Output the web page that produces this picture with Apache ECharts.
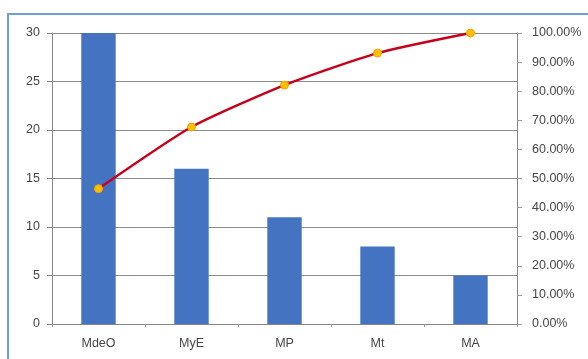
<!DOCTYPE html>
<html>
<head>
<meta charset="utf-8">
<script src="https://cdn.jsdelivr.net/npm/echarts@6/dist/echarts.min.js"></script>
<style>
  html, body { margin: 0; padding: 0; background: #fff; }
  #chart { width: 588px; height: 359px; }
</style>
</head>
<body>
<div id="chart"></div>
<script>
// datos
const categories = ['MdeO', 'MyE', 'MP', 'Mt', 'MA']
const counts = [30, 16, 11, 8, 5]
const cumulative = [46.5, 67.7, 82.1, 93.1, 100]

const chart = echarts.init(document.getElementById('chart'))

const labelStyle = {
  color: '#474747',
  fontSize: 12.5,
  fontFamily: 'Liberation Sans, Arial, sans-serif'
}

chart.setOption({
  animation: false,
  grid: { left: 52, right: 71, top: 33, bottom: 35 },
  graphic: [{
    type: 'rect',
    shape: { x: 8, y: 14, width: 640, height: 400 },
    style: { fill: 'none', stroke: '#6f9fd8', lineWidth: 2 },
    z: -1
  }],
  xAxis: {
    type: 'category',
    data: categories,
    boundaryGap: true,
    axisLine: { lineStyle: { color: '#868686' } },
    axisTick: { show: true, length: 3, lineStyle: { color: '#9a9a9a' } },
    axisLabel: Object.assign({ margin: 13 }, labelStyle)
  },
  yAxis: [{
    type: 'value',
    min: 0,
    max: 30,
    interval: 5,
    axisLine: { show: true, lineStyle: { color: '#868686' } },
    axisTick: { show: true, length: 5, lineStyle: { color: '#868686' } },
    axisLabel: Object.assign({ margin: 12 }, labelStyle),
    splitLine: { lineStyle: { color: '#8c8c8c', width: 1 } }
  }, {
    type: 'value',
    min: 0,
    max: 100,
    interval: 10,
    position: 'right',
    axisLine: { show: true, lineStyle: { color: '#868686' } },
    axisTick: { show: true, length: 5, lineStyle: { color: '#9a9a9a' } },
    axisLabel: Object.assign({
      margin: 15,
      formatter: v => v.toFixed(2) + '%'
    }, labelStyle),
    splitLine: { show: false }
  }],
  series: [{
    type: 'bar',
    data: counts,
    barWidth: '37%',
    itemStyle: { color: '#4473c2' }
  }, {
    type: 'line',
    yAxisIndex: 1,
    data: cumulative,
    smooth: 0.2,
    symbol: 'circle',
    symbolSize: 8,
    lineStyle: { color: '#c8001c', width: 2.5 },
    itemStyle: { color: '#ffc000', borderColor: '#f5a000', borderWidth: 1 },
    z: 5
  }]
})
</script>
</body>
</html>
